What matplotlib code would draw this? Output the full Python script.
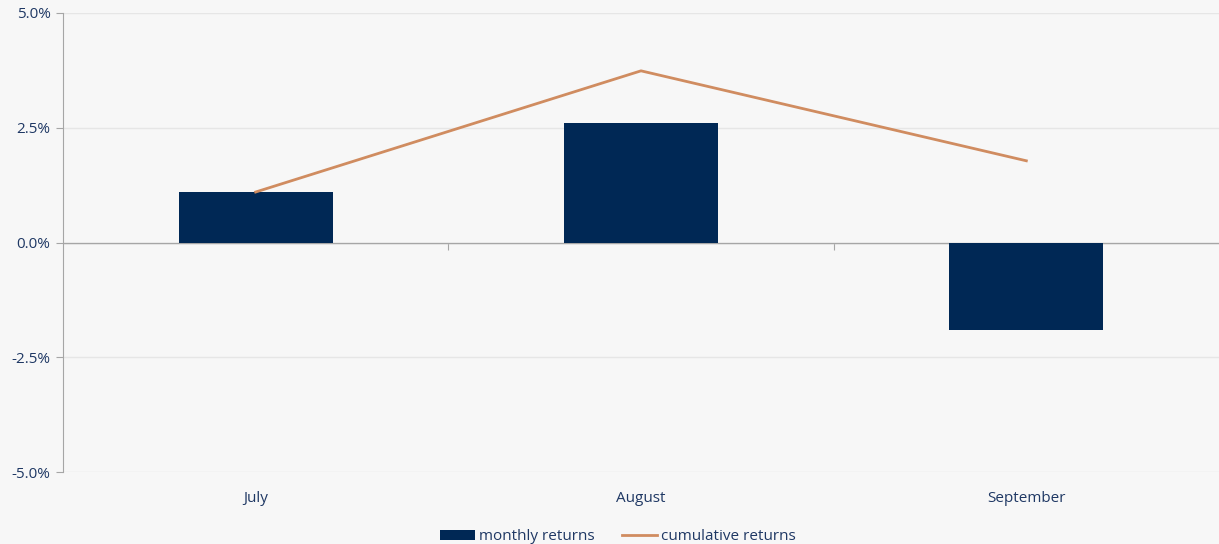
import matplotlib.pyplot as plt
from matplotlib.ticker import FuncFormatter
from matplotlib.patches import Patch
from matplotlib.lines import Line2D

months = ['July', 'August', 'September']
monthly_returns = [1.1, 2.6, -1.9]
cumulative_returns = [1.1, 3.74, 1.78]

bg = '#f7f7f7'
text_color = '#1f3864'
bar_color = '#002855'
line_color = '#d08c60'

plt.rcParams['font.family'] = ['Open Sans', 'DejaVu Sans']

fig = plt.figure(figsize=(12.19, 5.44), dpi=100, facecolor=bg)
ax = fig.add_axes([63 / 1219, 72 / 544, 1156 / 1219, 459 / 544])
ax.set_facecolor(bg)

x = list(range(len(months)))
ax.bar(x, monthly_returns, width=0.4, color=bar_color, zorder=3)
ax.plot(x, cumulative_returns, color=line_color, linewidth=2, zorder=4)

ax.set_xlim(-0.5, len(months) - 0.5)
ax.set_ylim(-5, 5)
ax.set_yticks([-5, -2.5, 0, 2.5, 5])
ax.yaxis.set_major_formatter(FuncFormatter(lambda v, p: f'{v:.1f}%'))
ax.grid(axis='y', color='#e6e6e6', linewidth=1, zorder=0)
ax.axhline(0, color='#a6a6a6', linewidth=1, zorder=2)

for s in ['top', 'right', 'bottom']:
    ax.spines[s].set_visible(False)
ax.spines['left'].set_color('#a6a6a6')
ax.tick_params(axis='y', colors='#a6a6a6', labelcolor=text_color, labelsize=11, length=5, pad=4)
ax.set_xticks(x)
ax.set_xticklabels(months)
ax.tick_params(axis='x', length=0, labelcolor=text_color, labelsize=11, pad=14)

# category boundary ticks on the zero line
sec = ax.secondary_xaxis(0, transform=ax.transData)
sec.spines['bottom'].set_visible(False)
sec.set_xticks([i + 0.5 for i in x[:-1]])
sec.set_xticklabels([])
sec.tick_params(axis='x', length=5, color='#a6a6a6', direction='out')

handles = [Patch(facecolor=bar_color, label='monthly returns'),
           Line2D([], [], color=line_color, linewidth=2, label='cumulative returns')]
fig.legend(handles=handles, loc='lower center', bbox_to_anchor=(0.507, -0.026), ncol=2,
           frameon=False, fontsize=11, labelcolor=text_color, handlelength=2.3,
           handletextpad=0.25, columnspacing=1.8)

fig.savefig('out.png', dpi=100, facecolor=bg)
